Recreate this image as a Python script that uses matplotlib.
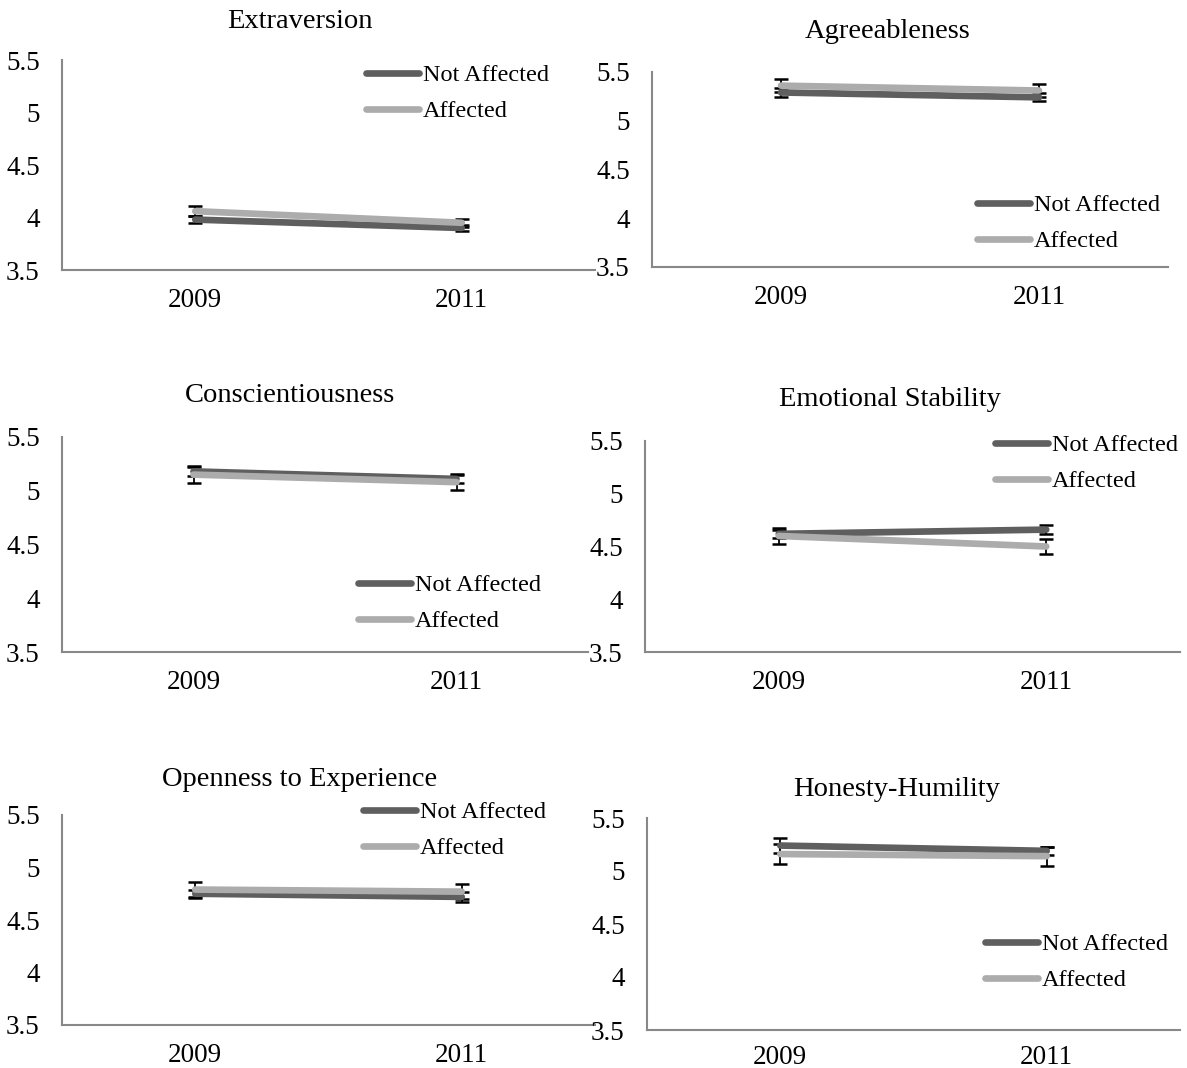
import matplotlib
matplotlib.use("Agg")
import matplotlib.pyplot as plt

plt.rcParams['font.family'] = ['Liberation Serif', 'DejaVu Serif']

W, H = 1187, 1068
years = ["2009", "2011"]
yticks = [3.5, 4.0, 4.5, 5.0, 5.5]
ytick_labels = ["3.5", "4", "4.5", "5", "5.5"]
series_names = ["Not Affected", "Affected"]

titles = ["Extraversion", "Agreeableness", "Conscientiousness",
          "Emotional Stability", "Openness to Experience", "Honesty-Humility"]

not_affected = [[3.98, 3.90], [5.29, 5.24], [5.18, 5.11],
                [4.62, 4.66], [4.75, 4.72], [5.24, 5.19]]
affected = [[4.06, 3.95], [5.36, 5.31], [5.15, 5.08],
            [4.60, 4.50], [4.79, 4.77], [5.16, 5.14]]
not_affected_err = [[0.03, 0.03], [0.05, 0.04], [0.04, 0.04],
                    [0.04, 0.04], [0.04, 0.045], [0.07, 0.04]]
affected_err = [[0.05, 0.04], [0.07, 0.07], [0.08, 0.075],
                [0.075, 0.075], [0.075, 0.07], [0.09, 0.09]]

# layout in pixels: (left, right, top(5.5), bottom(3.5))
boxes = [(62, 595, 60, 270), (652, 1168, 72, 267),
         (62, 588, 437, 652), (645, 1180, 441, 652),
         (62, 595, 815, 1025), (647, 1180, 818, 1030)]
xpads = [13, 13, 13, 13, 13, 11]
title_pos = [(300, 21), (888, 31), (290, 395), (890, 399), (300, 779), (897, 789)]
legend_pos = [(366, 64), (977, 194), (358, 574), (995, 434), (363, 801), (985, 933)]

c_na = "#5f5f5f"
c_a = "#acacac"
spine_c = "#888888"
fs_tick = 19.5
fs_title = 20.5
fs_leg = 17.5

fig = plt.figure(figsize=(W / 100, H / 100), dpi=100)
for i in range(6):
    l, r, t, b = boxes[i]
    ax = fig.add_axes([l / W, 1 - b / H, (r - l) / W, (b - t) / H])
    x = [0, 1]
    ax.errorbar(x, not_affected[i], yerr=not_affected_err[i], fmt='none',
                ecolor='black', elinewidth=1.3, capsize=5, capthick=1.8, zorder=2)
    ax.errorbar(x, affected[i], yerr=affected_err[i], fmt='none',
                ecolor='black', elinewidth=1.3, capsize=5, capthick=1.8, zorder=2)
    ax.plot(x, not_affected[i], color=c_na, lw=4.8, solid_capstyle='round',
            label=series_names[0], zorder=3)
    ax.plot(x, affected[i], color=c_a, lw=4.8, solid_capstyle='round',
            label=series_names[1], zorder=4)
    ax.set_xlim(-0.5, 1.5)
    ax.set_ylim(3.5, 5.5)
    ax.set_yticks(yticks)
    ax.set_yticklabels(ytick_labels)
    ax.set_xticks(x)
    ax.set_xticklabels(years)
    ax.tick_params(axis='both', length=0, labelsize=fs_tick)
    ax.tick_params(axis='y', pad=16)
    ax.tick_params(axis='x', pad=xpads[i])
    for s in ['top', 'right']:
        ax.spines[s].set_visible(False)
    for s in ['left', 'bottom']:
        ax.spines[s].set_color(spine_c)
        ax.spines[s].set_linewidth(1.5)
    tx, ty = title_pos[i]
    fig.text(tx / W, 1 - ty / H, titles[i], ha='center', va='center', fontsize=fs_title)
    lx, ly = legend_pos[i]
    ax.legend(loc='upper left', bbox_to_anchor=(lx / W, 1 - ly / H),
              bbox_transform=fig.transFigure, frameon=False, fontsize=fs_leg,
              borderpad=0, borderaxespad=0, handlelength=2.2,
              handletextpad=0.15, labelspacing=0.58)

fig.savefig("out.png", dpi=100)
